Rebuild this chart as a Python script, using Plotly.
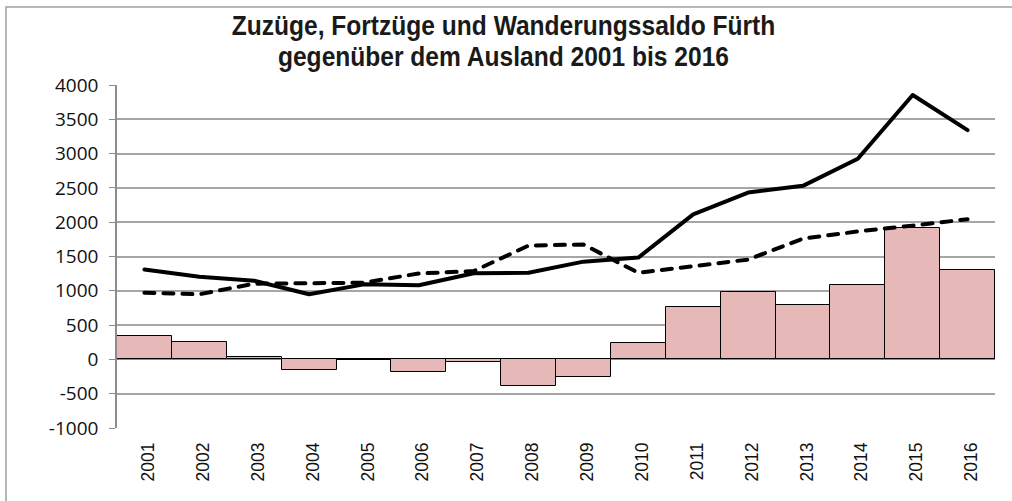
import plotly.graph_objects as go

years = [str(y) for y in range(2001, 2017)]
zuzuege = [1311, 1205, 1147, 949, 1094, 1080, 1255, 1262, 1425, 1484, 2115, 2432, 2530, 2925, 3855, 3342]
fortzuege = [973, 949, 1104, 1104, 1118, 1253, 1287, 1660, 1675, 1263, 1365, 1455, 1760, 1865, 1950, 2043]
saldo = [347, 255, 34, -154, -15, -183, -43, -390, -250, 232, 762, 988, 795, 1084, 1918, 1300]
y_ticks = list(range(-1000, 4001, 500))
y_ticktext = [str(v) for v in y_ticks]

fig = go.Figure()
fig.add_trace(go.Bar(
    x=years, y=saldo, name="Wanderungssaldo",
    marker=dict(color="#E6B8B7", line=dict(color="#000000", width=1)),
))
fig.add_trace(go.Scatter(
    x=years, y=fortzuege, name="Fortzüge", mode="lines",
    line=dict(color="#000000", width=4, dash="10px,9px"),
))
fig.add_trace(go.Scatter(
    x=years, y=zuzuege, name="Zuzüge", mode="lines",
    line=dict(color="#000000", width=4),
))

fig.update_layout(
    width=1012, height=501,
    margin=dict(l=117, r=17, t=85, b=73),
    paper_bgcolor="white", plot_bgcolor="white",
    showlegend=False,
    bargap=0,
    title=dict(
        text="<b>Zuzüge, Fortzüge und Wanderungssaldo Fürth<br>gegenüber dem Ausland 2001 bis 2016</b>",
        x=0.4975, xref="container", xanchor="center",
        y=0.93, yref="container", yanchor="middle",
        font=dict(family="Liberation Sans, Arial", size=28, color="#1a1a1a"),
    ),
    xaxis=dict(
        type="category", tickangle=-90,
        tickfont=dict(family="Liberation Sans, Arial", size=17.5, color="#111111"),
        showgrid=False, showline=False, ticks="",
        ticklabelstandoff=10, ticklabelshift=4,
    ),
    yaxis=dict(
        range=[-1000, 4000], tickvals=y_ticks, ticktext=y_ticktext,
        tickfont=dict(family="Open Sans", size=19, color="#111111"),
        showgrid=True, gridcolor="#A6A6A6", gridwidth=1.5,
        zeroline=True, zerolinecolor="#8C8C8C", zerolinewidth=2,
        showline=True, linecolor="#8C8C8C", linewidth=1.5,
        ticks="outside", ticklen=6, tickcolor="#8C8C8C",
        ticklabelstandoff=7,
    ),
    shapes=[dict(
        type="rect", xref="paper", yref="paper",
        x0=-0.1264, x1=1.05, y0=-0.3, y1=1.2274,
        line=dict(color="#A0A0A0", width=1.5), fillcolor="rgba(0,0,0,0)", layer="below",
    )],
)

post = """
document.body.style.margin='0';
document.body.style.overflow='hidden';
var t = document.querySelector('.gtitle');
if (t) {
  var lines = t.querySelectorAll('tspan.line');
  for (var i = 1; i < lines.length; i++) { lines[i].setAttribute('dy', '1.1em'); }
  var cx = parseFloat(t.getAttribute('x')) || 503;
  t.setAttribute('transform', 'translate(' + cx + ',0) scale(0.878,1) translate(' + (-cx) + ',0)');
}
document.querySelectorAll('.scatterlayer path.js-line').forEach(function(p) {
  p.style.strokeLinecap = 'round';
  p.style.strokeLinejoin = 'round';
});
"""

fig.write_html("out.html", post_script=post, config={"displayModeBar": False})
